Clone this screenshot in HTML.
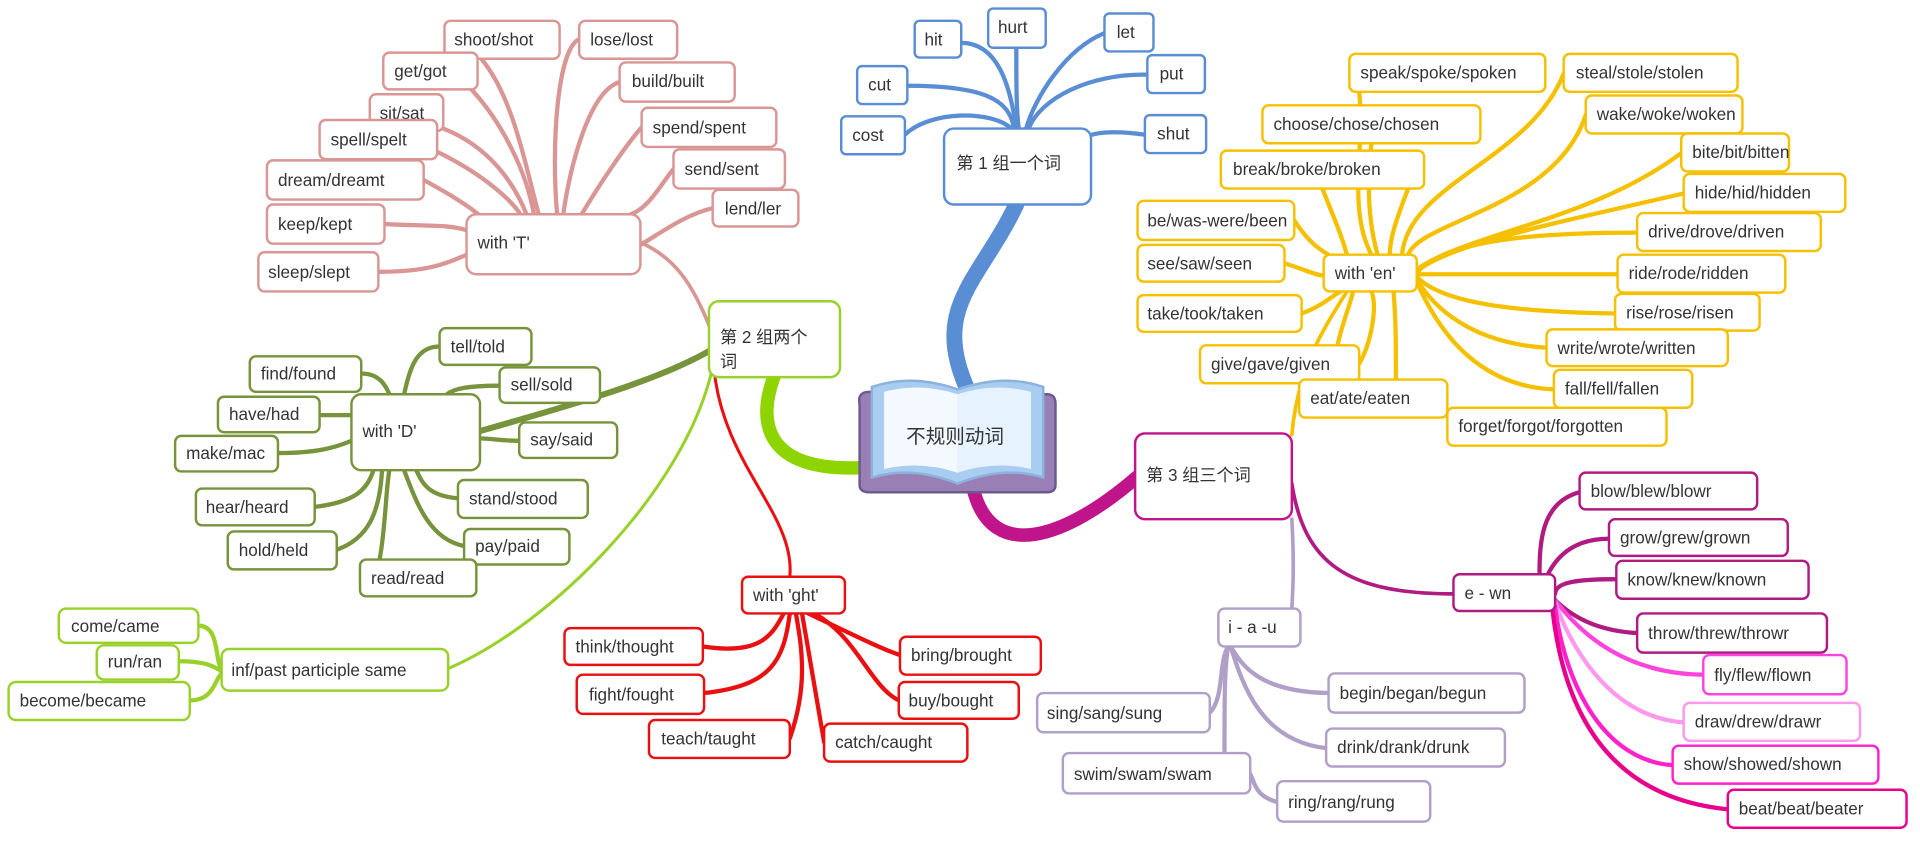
<!DOCTYPE html>
<html><head><meta charset="utf-8"><style>
html,body{margin:0;padding:0;background:#fff;width:1920px;height:851px;overflow:hidden}
svg{display:block}
text{font-family:"Liberation Sans","Noto Sans CJK SC",sans-serif;font-size:14px;fill:#333;stroke:none}
rect{fill:#fff;stroke-width:2}
path{fill:none;stroke-linecap:round}
path.f{stroke-linecap:butt}
</style></head><body>
<svg width="1920" height="851" viewBox="0 0 1568 695" preserveAspectRatio="none">
<path d="M790 318 C 760 250, 800 230, 830 167" stroke="#5a8ed4" stroke-width="13"/>
<path d="M702 382 C 620 385, 620 340, 632 308" stroke="#8ed400" stroke-width="11"/>
<path d="M795 400 C 810 460, 870 440, 928 390" stroke="#c0148a" stroke-width="11"/>

<g stroke="#5a8ed4" stroke-width="3.5">
<path d="M785 35 C 815 35, 825 70, 830 105"/>
<path d="M830 39 C 830 70, 830 90, 832 105"/>
<path d="M741 70 C 800 70, 825 80, 828 105"/>
<path d="M739 110 C 760 90, 810 90, 826 105"/>
<path d="M902 27 C 870 40, 845 80, 838 105"/>
<path d="M937 61 C 890 60, 850 80, 840 105"/>
<path d="M935 110 C 900 105, 880 110, 880 120"/>
</g>
<path d="M523 198 C 550 210, 565 230, 580 268" stroke="#d99694" stroke-width="3"/>
<path d="M392 352 C 470 330, 540 310, 582 285" stroke="#77933c" stroke-width="5"/>
<path d="M366 546 C 450 510, 560 400, 582 300" stroke="#99d12a" stroke-width="2.5"/>
<path d="M583 300 C 590 380, 650 420, 645 471" stroke="#e81010" stroke-width="2.5"/>
<g stroke="#d99694" stroke-width="3.5">
<path d="M393 48 C 420 80, 430 140, 440 175"/>
<path d="M473 32 C 455 40, 450 120, 455 175"/>
<path d="M385 73 C 410 100, 430 140, 436 175"/>
<path d="M506 67 C 480 75, 465 140, 460 175"/>
<path d="M362 105 C 400 120, 420 150, 430 175"/>
<path d="M357 124 C 390 140, 415 160, 425 175"/>
<path d="M524 104 C 510 120, 490 150, 475 175"/>
<path d="M346 147 C 370 160, 385 170, 393 177"/>
<path d="M550 138 C 540 150, 530 170, 515 175"/>
<path d="M582 170 C 560 175, 540 190, 523 200"/>
<path d="M314 183 C 350 185, 365 183, 381 188"/>
<path d="M309 222 C 350 222, 365 215, 381 208"/>
</g>
<g stroke="#77933c" stroke-width="3.5">
<path d="M359 283 C 340 283, 335 300, 330 322"/>
<path d="M295 305 C 310 305, 315 315, 318 322"/>
<path d="M408 315 C 380 315, 370 318, 365 322"/>
<path d="M261 339 C 275 339, 280 339, 287 339"/>
<path d="M424 360 C 410 360, 400 358, 392 358"/>
<path d="M227 370 C 260 370, 275 365, 287 360"/>
<path d="M374 407 C 350 405, 345 395, 340 384"/>
<path d="M257 414 C 290 410, 300 400, 305 384"/>
<path d="M379 446 C 350 440, 340 410, 330 384"/>
<path d="M275 449 C 300 440, 310 420, 312 384"/>
<path d="M310 457 C 315 430, 315 400, 318 384"/>
</g>
<g stroke="#99d12a" stroke-width="3.5">
<path d="M162 511 C 180 511, 175 540, 181 546"/>
<path d="M146 540 C 170 540, 175 545, 181 548"/>
<path d="M155 572 C 175 572, 175 555, 181 550"/>
</g>
<g stroke="#e81010" stroke-width="3.5">
<path d="M574 528 C 620 535, 630 520, 640 501"/>
<path d="M735 535 C 720 530, 700 520, 660 501"/>
<path d="M575 566 C 630 560, 640 540, 645 501"/>
<path d="M734 572 C 710 560, 700 520, 665 501"/>
<path d="M645 603 C 660 560, 655 530, 650 501"/>
<path d="M673 606 C 665 560, 660 530, 655 501"/>
</g>
<path d="M1055 355 C 1060 300, 1080 270, 1100 238" stroke="#f5c000" stroke-width="3"/>
<path d="M1055 395 C 1065 460, 1100 485, 1187 485" stroke="#b01b82" stroke-width="3"/>
<path d="M1055 424 C 1057 460, 1056 480, 1055 497" stroke="#b0a0c8" stroke-width="3"/>
<g stroke="#f5c000" stroke-width="3.5">
<path d="M1110 75 C 1115 120, 1100 170, 1120 208"/>
<path d="M1277 60 C 1250 130, 1150 150, 1145 208"/>
<path d="M1120 117 C 1115 160, 1120 190, 1125 208"/>
<path d="M1295 94 C 1270 170, 1160 180, 1150 208"/>
<path d="M1080 154 C 1090 180, 1095 190, 1100 208"/>
<path d="M1150 154 C 1140 180, 1135 195, 1135 208"/>
<path d="M1373 125 C 1300 180, 1200 190, 1157 220"/>
<path d="M1057 180 C 1070 200, 1080 205, 1085 208"/>
<path d="M1375 158 C 1280 180, 1180 200, 1157 222"/>
<path d="M1049 215 C 1065 220, 1075 225, 1081 225"/>
<path d="M1337 190 C 1260 190, 1180 195, 1157 223"/>
<path d="M1321 224 C 1250 224, 1180 224, 1157 224"/>
<path d="M1063 256 C 1080 250, 1090 240, 1095 238"/>
<path d="M1319 256 C 1250 255, 1180 250, 1157 226"/>
<path d="M1110 297 C 1120 280, 1125 250, 1120 238"/>
<path d="M1263 284 C 1200 280, 1170 250, 1157 228"/>
<path d="M1100 310 C 1080 300, 1100 260, 1105 238"/>
<path d="M1269 318 C 1200 315, 1170 260, 1157 230"/>
<path d="M1140 310 C 1140 280, 1140 260, 1138 238"/>
<path d="M1182 340 C 1175 330, 1170 325, 1165 325"/>
</g>
<path d="M1290 402 C 1260 410, 1255 440, 1258 485" stroke="#b01b82" stroke-width="3.5"/>
<path d="M1314 440 C 1280 440, 1265 460, 1258 485" stroke="#b01b82" stroke-width="3.5"/>
<path d="M1320 473 C 1290 473, 1270 475, 1270 485" stroke="#b01b82" stroke-width="3.5"/>
<path d="M1337 517 C 1300 515, 1280 500, 1270 490" stroke="#b01b82" stroke-width="3.5"/>
<path d="M1391 551 C 1320 550, 1285 510, 1270 490" stroke="#ff44dd" stroke-width="3.5"/>
<path d="M1375 590 C 1310 585, 1280 520, 1270 492" stroke="#ff99ee" stroke-width="3.5"/>
<path d="M1366 625 C 1300 620, 1275 540, 1270 495" stroke="#ff22cc" stroke-width="3.5"/>
<path d="M1411 661 C 1300 650, 1275 560, 1268 499" stroke="#e8008c" stroke-width="3.5"/>
<g stroke="#b0a0c8" stroke-width="3.5">
<path d="M988 582 C 1000 570, 995 540, 1003 528"/>
<path d="M1085 566 C 1030 565, 1015 545, 1005 528"/>
<path d="M1083 611 C 1030 605, 1015 560, 1005 528"/>
<path d="M1000 615 C 1000 570, 1000 545, 1003 528"/>
<path d="M1043 655 C 1025 650, 1025 640, 1021 632"/>
</g>

<g>
<path d="M710 320 Q 700 320 702 330 L 702 396 Q 702 402 710 402 L 855 402 Q 862 402 862 396 L 862 330 Q 862 322 855 322 Z" style="fill:#9a7fb6;stroke:#6b5a90;stroke-width:2"/>
<path d="M712 316 Q 745 305 782 318 Q 820 305 852 316 L 852 390 Q 820 380 782 395 Q 745 380 712 390 Z" style="fill:#a9cdf0;stroke:#8ab2dc;stroke-width:2"/>
<path d="M722 320 Q 752 312 782 322 L 782 386 Q 752 376 722 383 Z" style="fill:#f3f9ff;stroke:none"/>
<path d="M782 322 Q 812 312 842 320 L 842 383 Q 812 376 782 386 Z" style="fill:#e6f3ff;stroke:none"/>
<text x="740" y="362" style="font-size:16px">不规则动词</text>
</g>

<g stroke="#5a8ed4">
<rect x="771" y="105" width="120" height="62" rx="8"/><text x="781" y="138">第 1 组一个词</text>
<rect x="747" y="17" width="38" height="30" rx="4"/><text x="755" y="37">hit</text>
<rect x="807" y="7" width="47" height="32" rx="4"/><text x="815" y="27">hurt</text>
<rect x="902" y="11" width="40" height="31" rx="4"/><text x="912" y="31">let</text>
<rect x="700" y="54" width="41" height="31" rx="4"/><text x="709" y="74">cut</text>
<rect x="937" y="45" width="47" height="31" rx="4"/><text x="947" y="65">put</text>
<rect x="687" y="95" width="52" height="31" rx="4"/><text x="696" y="115">cost</text>
<rect x="935" y="94" width="50" height="31" rx="4"/><text x="945" y="114">shut</text>
</g>
<g stroke="#99d12a">
<rect x="579" y="246" width="107" height="62" rx="8"/><text x="588" y="280">第 2 组两个</text><text x="588" y="300">词</text>
<rect x="181" y="530" width="185" height="34" rx="6"/><text x="189" y="552">inf/past participle same</text>
<rect x="48" y="497" width="114" height="28" rx="6"/><text x="58" y="516">come/came</text>
<rect x="79" y="527" width="67" height="28" rx="6"/><text x="88" y="545">run/ran</text>
<rect x="7" y="557" width="148" height="31" rx="6"/><text x="16" y="577">become/became</text>
</g>
<g stroke="#77933c">
<rect x="287" y="322" width="105" height="62" rx="8"/><text x="296" y="357">with 'D'</text>
<rect x="359" y="268" width="75" height="30" rx="5"/><text x="368" y="288">tell/told</text>
<rect x="204" y="291" width="91" height="29" rx="5"/><text x="213" y="310">find/found</text>
<rect x="408" y="300" width="82" height="29" rx="5"/><text x="417" y="319">sell/sold</text>
<rect x="178" y="324" width="83" height="29" rx="5"/><text x="187" y="343">have/had</text>
<rect x="424" y="345" width="80" height="29" rx="5"/><text x="433" y="364">say/said</text>
<rect x="143" y="356" width="84" height="29" rx="5"/><text x="152" y="375">make/mac</text>
<rect x="374" y="392" width="106" height="31" rx="5"/><text x="383" y="412">stand/stood</text>
<rect x="160" y="399" width="97" height="30" rx="5"/><text x="168" y="419">hear/heard</text>
<rect x="379" y="432" width="86" height="29" rx="5"/><text x="388" y="451">pay/paid</text>
<rect x="186" y="434" width="89" height="31" rx="5"/><text x="195" y="454">hold/held</text>
<rect x="294" y="457" width="95" height="30" rx="5"/><text x="303" y="477">read/read</text>
</g>
<g stroke="#d99694">
<rect x="381" y="175" width="142" height="49" rx="8"/><text x="390" y="203">with 'T'</text>
<rect x="363" y="17" width="94" height="31" rx="5"/><text x="371" y="37">shoot/shot</text>
<rect x="473" y="17" width="80" height="31" rx="5"/><text x="482" y="37">lose/lost</text>
<rect x="313" y="43" width="77" height="30" rx="5"/><text x="322" y="63">get/got</text>
<rect x="506" y="51" width="94" height="32" rx="5"/><text x="516" y="71">build/built</text>
<rect x="302" y="77" width="60" height="30" rx="5"/><text x="310" y="97">sit/sat</text>
<rect x="261" y="98" width="96" height="32" rx="5"/><text x="270" y="119">spell/spelt</text>
<rect x="524" y="88" width="110" height="32" rx="5"/><text x="533" y="109">spend/spent</text>
<rect x="218" y="131" width="128" height="32" rx="5"/><text x="227" y="152">dream/dreamt</text>
<rect x="550" y="122" width="91" height="32" rx="5"/><text x="559" y="143">send/sent</text>
<rect x="582" y="155" width="70" height="30" rx="5"/><text x="592" y="175">lend/ler</text>
<rect x="218" y="167" width="96" height="32" rx="5"/><text x="227" y="188">keep/kept</text>
<rect x="211" y="206" width="98" height="32" rx="5"/><text x="219" y="227">sleep/slept</text>
</g>
<g stroke="#e81010">
<rect x="606" y="471" width="84" height="30" rx="5"/><text x="615" y="491">with 'ght'</text>
<rect x="461" y="513" width="113" height="30" rx="5"/><text x="470" y="533">think/thought</text>
<rect x="735" y="520" width="115" height="31" rx="5"/><text x="744" y="540">bring/brought</text>
<rect x="471" y="551" width="104" height="32" rx="5"/><text x="481" y="572">fight/fought</text>
<rect x="734" y="557" width="98" height="30" rx="5"/><text x="742" y="577">buy/bought</text>
<rect x="530" y="588" width="115" height="31" rx="5"/><text x="540" y="608">teach/taught</text>
<rect x="673" y="591" width="117" height="31" rx="5"/><text x="682" y="611">catch/caught</text>
</g>
<g stroke="#c0148a">
<rect x="927" y="354" width="128" height="70" rx="8"/><text x="936" y="393">第 3 组三个词</text>
</g>
<g stroke="#f5c000">
<rect x="1081" y="208" width="76" height="30" rx="5"/><text x="1090" y="228">with 'en'</text>
<rect x="1102" y="44" width="160" height="31" rx="5"/><text x="1111" y="64">speak/spoke/spoken</text>
<rect x="1277" y="44" width="142" height="31" rx="5"/><text x="1287" y="64">steal/stole/stolen</text>
<rect x="1031" y="86" width="178" height="31" rx="5"/><text x="1040" y="106">choose/chose/chosen</text>
<rect x="1295" y="78" width="128" height="31" rx="5"/><text x="1304" y="98">wake/woke/woken</text>
<rect x="997" y="123" width="166" height="31" rx="5"/><text x="1007" y="143">break/broke/broken</text>
<rect x="1373" y="109" width="88" height="31" rx="5"/><text x="1382" y="129">bite/bit/bitten</text>
<rect x="1375" y="142" width="132" height="31" rx="5"/><text x="1384" y="162">hide/hid/hidden</text>
<rect x="929" y="164" width="128" height="32" rx="5"/><text x="937" y="185">be/was-were/been</text>
<rect x="1337" y="174" width="150" height="31" rx="5"/><text x="1346" y="194">drive/drove/driven</text>
<rect x="929" y="200" width="120" height="30" rx="5"/><text x="937" y="220">see/saw/seen</text>
<rect x="1321" y="208" width="137" height="31" rx="5"/><text x="1330" y="228">ride/rode/ridden</text>
<rect x="1319" y="240" width="118" height="30" rx="5"/><text x="1328" y="260">rise/rose/risen</text>
<rect x="929" y="241" width="134" height="30" rx="5"/><text x="937" y="261">take/took/taken</text>
<rect x="1263" y="269" width="148" height="30" rx="5"/><text x="1272" y="289">write/wrote/written</text>
<rect x="980" y="282" width="130" height="31" rx="5"/><text x="989" y="302">give/gave/given</text>
<rect x="1269" y="302" width="113" height="31" rx="5"/><text x="1278" y="322">fall/fell/fallen</text>
<rect x="1061" y="310" width="121" height="31" rx="5"/><text x="1070" y="330">eat/ate/eaten</text>
<rect x="1182" y="333" width="179" height="31" rx="5"/><text x="1191" y="353">forget/forgot/forgotten</text>
</g>
<g>
<rect x="1187" y="469" width="83" height="30" rx="5" stroke="#b01b82"/><text x="1196" y="489">e - wn</text>
<rect x="1290" y="386" width="145" height="30" rx="5" stroke="#b01b82"/><text x="1299" y="406">blow/blew/blowr</text>
<rect x="1314" y="424" width="146" height="30" rx="5" stroke="#b01b82"/><text x="1323" y="444">grow/grew/grown</text>
<rect x="1320" y="458" width="157" height="31" rx="5" stroke="#b01b82"/><text x="1329" y="478">know/knew/known</text>
<rect x="1337" y="501" width="155" height="32" rx="5" stroke="#b01b82"/><text x="1346" y="522">throw/threw/throwr</text>
<rect x="1391" y="535" width="117" height="32" rx="5" stroke="#ff44dd"/><text x="1400" y="556">fly/flew/flown</text>
<rect x="1375" y="574" width="144" height="31" rx="5" stroke="#ff99ee"/><text x="1384" y="594">draw/drew/drawr</text>
<rect x="1366" y="609" width="168" height="31" rx="5" stroke="#ff22cc"/><text x="1375" y="629">show/showed/shown</text>
<rect x="1411" y="645" width="146" height="31" rx="5" stroke="#e8008c"/><text x="1420" y="665">beat/beat/beater</text>
</g>
<g stroke="#b0a0c8">
<rect x="995" y="497" width="67" height="31" rx="5"/><text x="1003" y="517">i - a -u</text>
<rect x="847" y="566" width="141" height="32" rx="5"/><text x="855" y="587">sing/sang/sung</text>
<rect x="1085" y="550" width="160" height="32" rx="5"/><text x="1094" y="571">begin/began/begun</text>
<rect x="1083" y="595" width="146" height="31" rx="5"/><text x="1092" y="615">drink/drank/drunk</text>
<rect x="868" y="615" width="153" height="33" rx="5"/><text x="877" y="637">swim/swam/swam</text>
<rect x="1043" y="638" width="125" height="33" rx="5"/><text x="1052" y="660">ring/rang/rung</text>
</g>
</svg>
</body></html>
